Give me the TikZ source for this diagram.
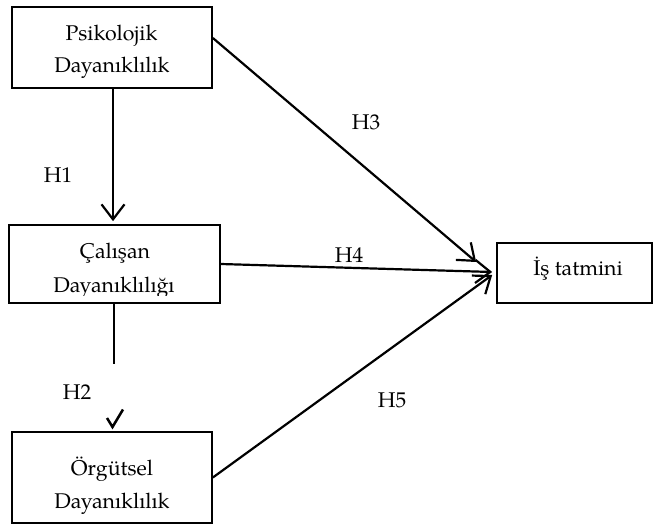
\documentclass[tikz,border=0pt]{standalone}
\usepackage{fontspec}
\setmainfont{TeX Gyre Pagella}
\usetikzlibrary{arrows.meta}
\begin{document}
\begin{tikzpicture}[x=1pt,y=-1pt,
  box/.style={draw, line width=1.7pt, inner sep=0pt, rectangle},
  txt/.style={inner sep=0pt, anchor=base, font=\fontsize{21.3}{32}\selectfont},
  hlbl/.style={inner sep=0pt, font=\fontsize{21.3}{32}\selectfont},
  conn/.style={line width=2.2pt},
  arr/.style={conn, -{Straight Barb[length=15pt,width=23pt]}}
]
\useasboundingbox (0,0) rectangle (653,527);
% boxes
\node[box, minimum width=200pt, minimum height=81pt] (b1) at (112,47.5) {};
\node[box, minimum width=211pt, minimum height=78pt] (b2) at (114.5,264) {};
\node[box, minimum width=200pt, minimum height=91pt] (b3) at (112,477.5) {};
\node[box, minimum width=155pt, minimum height=60pt] (b4) at (574.5,273) {};
% texts
\node[txt] (t1a) at (111.5,41) {Psikolojik};
\node[txt] (t1b) at (112,73) {Dayanıklılık};
\begin{scope}
\clip (9,225) rectangle (220,295.5);
\node[txt] (t2a) at (115,258) {Çalışan};
\node[txt] (t2b) at (114,292) {Dayanıklılığı};
\end{scope}
\node[txt] (t3a) at (112,475) {Örgütsel};
\node[txt] (t3b) at (112,508) {Dayanıklılık};
\node[txt] (t4) at (578,275) {İş tatmini};
% connectors
\draw[arr, shorten >=3pt] ([xshift=1pt]b1.south) -- ([xshift=-1.5pt]b2.north);
\coordinate (h2end) at (114,364);
\draw[conn] ([xshift=-0.5pt]b2.south) -- (h2end);
\draw[line width=2.5pt, line join=miter] (107,418) -- (112.5,427) -- (123,409.5);
\draw[arr] ([yshift=9.5pt]b1.east) -- ([shift={(-20,-11)}]b4.west);
\draw[arr] (b2.east) -- ([shift={(-4,-1)}]b4.west);
\draw[arr] (b3.east) -- ([shift={(-4,2)}]b4.west);
% labels
\node[hlbl] (h1) at (58,175) {H1};
\node[hlbl] (h2) at (77,392) {H2};
\node[hlbl] (h3) at (366,122) {H3};
\node[hlbl] (h4) at (349,255) {H4};
\node[hlbl] (h5) at (392,400) {H5};
\end{tikzpicture}
\end{document}
